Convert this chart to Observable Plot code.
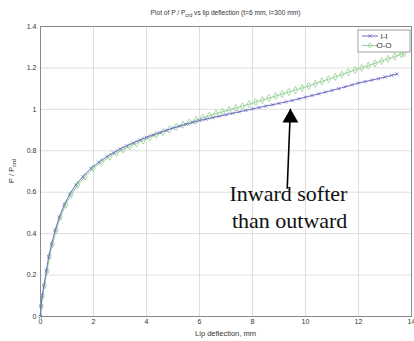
<!DOCTYPE html>
<html><head><meta charset="utf-8">
<script src="https://cdn.jsdelivr.net/npm/d3@7"></script>
<script src="https://cdn.jsdelivr.net/npm/@observablehq/plot@0.6"></script>
<style>
body{margin:0;background:#fff;}
#chart{width:414px;height:341px;}
</style>
</head><body><div id="chart"></div>
<script>
// I-I series (deflection mm, P/Pcrd)
const iiX = [0,0.02,0.06,0.13,0.22,0.31,0.42,0.55,0.71,0.9,1.1,1.33,1.6,1.9,2.2,2.5,2.75,3.0,3.25,3.5,3.75,4.0,4.25,4.5,4.75,5.0,5.25,5.5,5.75,6.0,6.25,6.5,6.75,7.0,7.25,7.5,7.75,8.0,8.25,8.5,8.75,9.0,9.25,9.5,9.75,10.0,10.25,10.5,10.75,11.0,11.25,11.5,11.75,12.0,12.25,12.5,12.75,13.0,13.25,13.45];
const iiY = [0,0.05,0.1,0.15,0.22,0.29,0.35,0.415,0.48,0.54,0.59,0.635,0.675,0.715,0.745,0.772,0.79,0.808,0.824,0.838,0.852,0.865,0.877,0.888,0.899,0.91,0.919,0.928,0.937,0.946,0.953,0.96,0.967,0.974,0.981,0.988,0.995,1.002,1.009,1.016,1.022,1.029,1.036,1.043,1.051,1.059,1.067,1.075,1.083,1.092,1.1,1.109,1.118,1.127,1.134,1.141,1.148,1.156,1.164,1.171];
// O-O series
const ooX = [0,0.03,0.08,0.15,0.25,0.34,0.45,0.59,0.75,0.95,1.16,1.4,1.68,1.98,2.3,2.62,2.87,3.12,3.37,3.62,3.87,4.12,4.37,4.62,4.87,5.12,5.37,5.62,5.87,6.12,6.37,6.62,6.87,7.12,7.37,7.62,7.87,8.12,8.37,8.62,8.87,9.12,9.37,9.62,9.87,10.12,10.37,10.62,10.87,11.12,11.37,11.62,11.87,12.12,12.37,12.62,12.87,13.12,13.37,13.62,13.72];
const ooY = [0,0.05,0.1,0.15,0.22,0.29,0.35,0.415,0.48,0.54,0.59,0.635,0.675,0.715,0.745,0.772,0.79,0.806,0.821,0.836,0.85,0.864,0.877,0.89,0.903,0.915,0.926,0.937,0.948,0.96,0.969,0.979,0.988,0.997,1.007,1.016,1.025,1.035,1.045,1.054,1.064,1.074,1.084,1.093,1.103,1.113,1.124,1.135,1.146,1.157,1.168,1.179,1.19,1.2,1.211,1.222,1.233,1.244,1.255,1.266,1.271];

const xTicks = [0,2,4,6,8,10,12,14];
const yTicks = [0,0.2,0.4,0.6,0.8,1,1.2,1.4];
const seriesNames = ["I-I","O-O"];
const seriesColors = ["#6e6ec4","#94d094"];

const titleMain = "Plot of P / P";
const titleSub = "crd";
const titleRest = " vs lip deflection (t=6 mm, l=300 mm)";
const xLabel = "Lip deflection, mm";
const yLabelMain = "P / P";
const yLabelSub = "crd";

// annotation: arrow base -> tip, and text lines
const arrowX = [9.31, 9.43];
const arrowY = [0.617, 1.003];
const noteLines = ["Inward softer","than outward"];
const noteX = [11.58, 11.58];
const noteY = [0.556, 0.425];

const ii = iiX.map((x,i)=>({x, y:iiY[i]}));
const oo = ooX.map((x,i)=>({x, y:ooY[i]}));
const notes = noteLines.map((t,i)=>({t, x:noteX[i], y:noteY[i]}));

const font = "Liberation Sans, Arial, sans-serif";
const textColor = "#333333";

const plot = Plot.plot({
  width: 414, height: 341,
  marginLeft: 40, marginRight: 3, marginTop: 26, marginBottom: 25,
  style: {fontFamily: font, fontSize: "7px", background: "#fff", color: textColor},
  x: {domain: [0,14], ticks: xTicks, label: null, tickSize: 0, tickPadding: 3, tickFormat: d3.format("~g")},
  y: {domain: [0,1.4], ticks: yTicks, label: null, tickSize: 0, tickPadding: 4, tickFormat: d3.format("~g")},
  marks: [
    Plot.gridX(xTicks, {stroke: "#d6d6d6", strokeOpacity: 1, strokeWidth: 0.8}),
    Plot.gridY(yTicks, {stroke: "#d6d6d6", strokeOpacity: 1, strokeWidth: 0.8}),
    Plot.frame({stroke: "#8a8a8a", strokeWidth: 1}),
    Plot.line(oo, {x:"x", y:"y", stroke: seriesColors[1], strokeWidth: 1}),
    Plot.dot(oo, {x:"x", y:"y", stroke: seriesColors[1], symbol: "diamond", r: 2.2, strokeWidth: 0.8, fill: "none"}),
    Plot.line(ii, {x:"x", y:"y", stroke: seriesColors[0], strokeWidth: 1}),
    Plot.dot(ii, {x:"x", y:"y", stroke: seriesColors[0], symbol: "times", r: 1.6, strokeWidth: 0.8}),
    Plot.link([0], {x1: ()=>arrowX[0], y1: ()=>arrowY[0], x2: ()=>arrowX[1], y2: ()=>arrowY[1], stroke: "#000", strokeWidth: 1.6}),
    Plot.dot([0], {x: ()=>arrowX[1], y: ()=>arrowY[1], symbol: "triangle", r: 5.9, fill: "#000", stroke: "none", dy: 9.3}),
    Plot.text(notes, {x:"x", y:"y", text:"t", textAnchor: "end", lineAnchor: "bottom", fontFamily: "Liberation Serif, Times New Roman, serif", fontSize: 22, fill: "#111"})
  ]
});
document.getElementById("chart").appendChild(plot);

const svg = d3.select(plot);
const xs = plot.scale("x"), ys = plot.scale("y");
const cx = (xs.apply(0) + xs.apply(14)) / 2;

// title
const t = svg.append("text").attr("x", cx).attr("y", 15).attr("text-anchor","middle")
  .attr("font-family", font).attr("font-size", 6.6).attr("fill", textColor);
t.append("tspan").text(titleMain);
t.append("tspan").attr("dy", 2).attr("font-size", 5).text(titleSub);
t.append("tspan").attr("dy", -2).text(titleRest);

// x label
svg.append("text").attr("x", cx).attr("y", 336).attr("text-anchor","middle")
  .attr("font-family", font).attr("font-size", 7.5).attr("fill",textColor).text(xLabel);

// y label
const yl = svg.append("text").attr("transform", `translate(14,${(ys.apply(0)+ys.apply(1.4))/2}) rotate(-90)`)
  .attr("text-anchor","middle").attr("font-family", font).attr("font-size", 7.5).attr("fill",textColor);
yl.append("tspan").text(yLabelMain);
yl.append("tspan").attr("dy", 2).attr("font-size", 5.5).text(yLabelSub);

// legend
const lx = xs.apply(14) - 53, ly = ys.apply(1.4) + 4;
const lg = svg.append("g").attr("transform", `translate(${lx},${ly})`);
lg.append("rect").attr("width", 52).attr("height", 22).attr("fill","#fff").attr("stroke","#8a8a8a").attr("stroke-width",0.8);
seriesNames.forEach((name,i)=>{
  const yy = 6 + i*9.5;
  lg.append("line").attr("x1",4).attr("x2",20).attr("y1",yy).attr("y2",yy).attr("stroke",seriesColors[i]).attr("stroke-width",1);
  const sym = d3.symbol(i===0 ? d3.symbolTimes : d3.symbolDiamond2, i===0 ? 8 : 15)();
  lg.append("path").attr("d", sym).attr("transform",`translate(12,${yy})`).attr("fill","none").attr("stroke",seriesColors[i]).attr("stroke-width",0.8);
  lg.append("text").attr("x",26).attr("y",yy).attr("dy","0.35em").attr("font-family",font).attr("font-size",8).attr("fill",textColor).text(name);
});
</script>
</body></html>
